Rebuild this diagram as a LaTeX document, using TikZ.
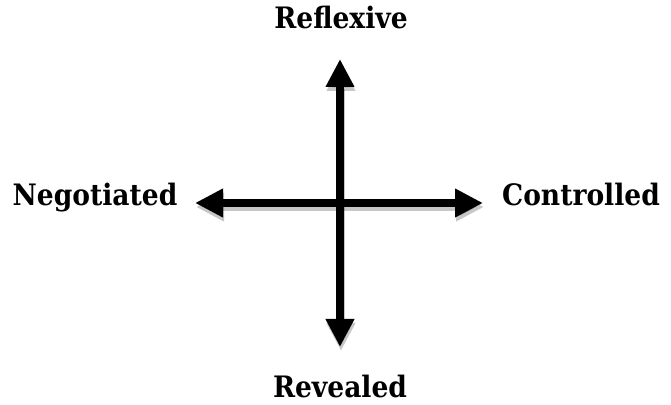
\documentclass[tikz,border=0pt]{standalone}
\usepackage{fontspec}
\setmainfont{DejaVu Serif Condensed}
\usetikzlibrary{arrows.meta}
\tikzset{
  lbl/.style={anchor=base, font=\bfseries\fontsize{29.5}{35}\selectfont, inner sep=0pt},
  axis/.style={line width=8pt, {Triangle[length=28pt,width=27pt]}-{Triangle[length=28pt,width=27pt]}},
  shade/.style={axis, draw=black, opacity=0.22, transform canvas={shift={(1pt,-4pt)}}}
}
\begin{document}
\begin{tikzpicture}[x=1pt,y=1pt]
\useasboundingbox (0,0) rectangle (671,404);
\coordinate (top) at (340,345);
\coordinate (bot) at (340,57);
\coordinate (lft) at (195,201);
\coordinate (rgt) at (483,201);
\draw[shade] (bot) -- (top);
\draw[axis] (bot) -- (top);
\draw[shade] (lft) -- (rgt);
\draw[axis] (lft) -- (rgt);
\node[lbl] (refl) at (341,375) {Reflexive};
\node[lbl] (revl) at (340,7) {Revealed};
\node[lbl] (nego) at (95,198) {Negotiated};
\node[lbl] (ctrl) at (581,198) {Controlled};
\end{tikzpicture}
\end{document}
